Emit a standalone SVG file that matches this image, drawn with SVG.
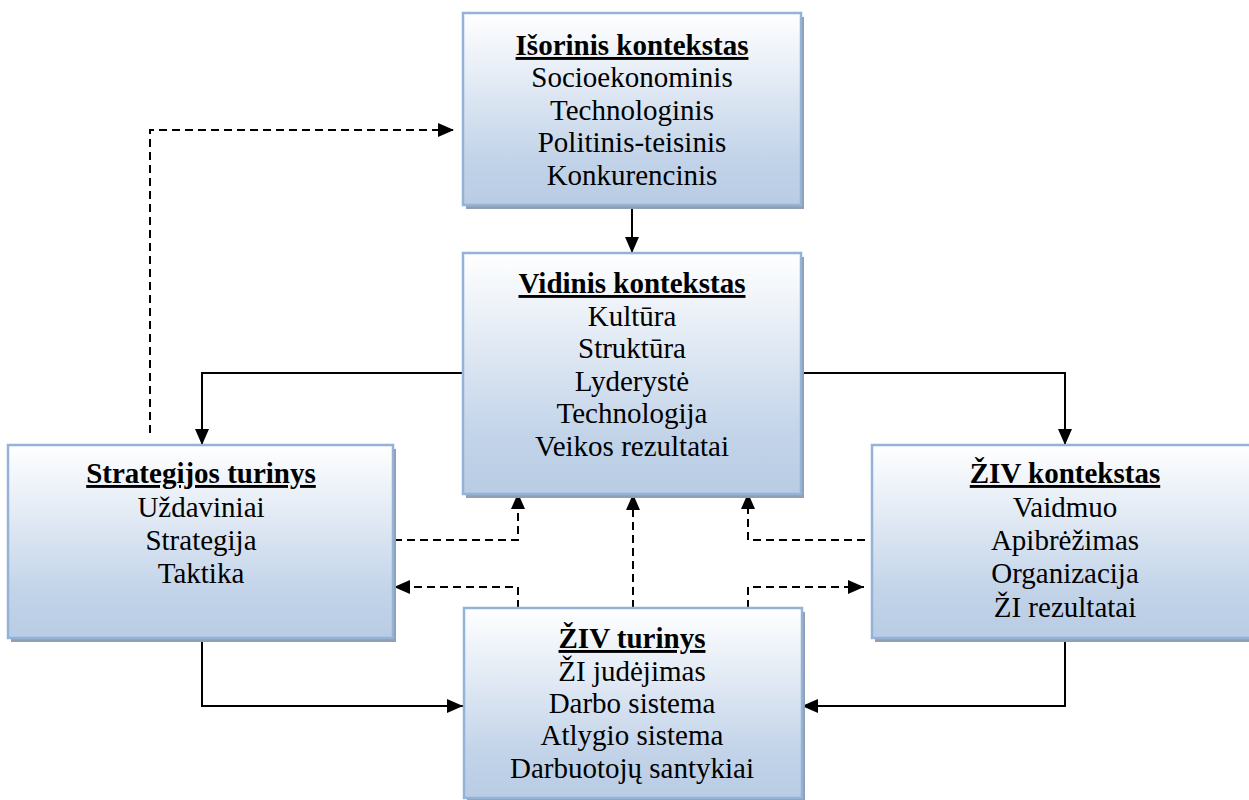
<svg xmlns="http://www.w3.org/2000/svg" width="1249" height="800" viewBox="0 0 1249 800">
  <style>
    .box { fill: url(#boxFill); stroke: #95b3d7; stroke-width: 2.5; }
    .shadow { fill: #8fa0b5; }
    .lbl { font-family: "Liberation Serif", Tinos, "Times New Roman", "DejaVu Serif", serif; font-size: 29px; fill: #000; text-anchor: middle; }
    .title { font-weight: bold; text-decoration: underline; }
    .solid { fill: none; stroke: #000; stroke-width: 2; }
    .dash { fill: none; stroke: #000; stroke-width: 2; stroke-dasharray: 8 5; }
  </style>
  <defs>
    <linearGradient id="boxFill" x1="0" y1="0" x2="0" y2="1">
      <stop offset="0" stop-color="#ffffff"/>
      <stop offset="0.75" stop-color="#c3d4e9"/>
      <stop offset="1" stop-color="#b8cce4"/>
    </linearGradient>
    <marker id="arrow" viewBox="0 0 16 14" refX="16" refY="7" markerWidth="16" markerHeight="14" markerUnits="userSpaceOnUse" orient="auto">
      <path d="M0,0 L16,7 L0,14 Z" fill="#000"/>
    </marker>
  </defs>

  <!-- connectors -->
  <g id="connectors">
    <line class="solid" x1="632" y1="205" x2="632" y2="253" marker-end="url(#arrow)"/>
    <polyline class="solid" points="463,373 202,373 202,445" marker-end="url(#arrow)"/>
    <polyline class="solid" points="801,373 1065,373 1065,445" marker-end="url(#arrow)"/>
    <polyline class="solid" points="202,638 202,706 463,706" marker-end="url(#arrow)"/>
    <polyline class="solid" points="1065,638 1065,706 802,706" marker-end="url(#arrow)"/>

    <polyline class="dash" points="150,433 150,130 454,130" marker-end="url(#arrow)"/>
    <polyline class="dash" points="394,540 518,540 518,493" marker-end="url(#arrow)"/>
    <polyline class="dash" points="518,608 518,587 394,587" marker-end="url(#arrow)"/>
    <line class="dash" x1="633" y1="608" x2="633" y2="494" marker-end="url(#arrow)"/>
    <polyline class="dash" points="865,540 748,540 748,493" marker-end="url(#arrow)"/>
    <polyline class="dash" points="748,608 748,587 864,587" marker-end="url(#arrow)"/>
  </g>

  <!-- external context -->
  <g id="node-isorinis" class="lbl">
    <rect class="shadow" x="466" y="17" width="338" height="192"/>
    <rect class="box" x="463" y="13" width="338" height="192"/>
    <text class="title" x="632" y="55">Išorinis kontekstas</text>
    <text x="632" y="87">Socioekonominis</text>
    <text x="632" y="120">Technologinis</text>
    <text x="632" y="152">Politinis-teisinis</text>
    <text x="632" y="185">Konkurencinis</text>
  </g>

  <!-- internal context -->
  <g id="node-vidinis" class="lbl">
    <rect class="shadow" x="466" y="257" width="338" height="241"/>
    <rect class="box" x="463" y="253" width="338" height="241"/>
    <text class="title" x="632" y="293">Vidinis kontekstas</text>
    <text x="632" y="326">Kultūra</text>
    <text x="632" y="358">Struktūra</text>
    <text x="632" y="391">Lyderystė</text>
    <text x="632" y="423">Technologija</text>
    <text x="632" y="456">Veikos rezultatai</text>
  </g>

  <!-- strategy content -->
  <g id="node-strategijos" class="lbl">
    <rect class="shadow" x="11" y="449" width="385" height="193"/>
    <rect class="box" x="8" y="445" width="385" height="193"/>
    <text class="title" x="201" y="483">Strategijos turinys</text>
    <text x="201" y="517">Uždaviniai</text>
    <text x="201" y="550">Strategija</text>
    <text x="201" y="583">Taktika</text>
  </g>

  <!-- HRM context -->
  <g id="node-ziv-kontekstas" class="lbl">
    <rect class="shadow" x="875" y="449" width="386" height="193"/>
    <rect class="box" x="872" y="445" width="386" height="193"/>
    <text class="title" x="1065" y="483">ŽIV kontekstas</text>
    <text x="1065" y="517">Vaidmuo</text>
    <text x="1065" y="550">Apibrėžimas</text>
    <text x="1065" y="583">Organizacija</text>
    <text x="1065" y="617">ŽI rezultatai</text>
  </g>

  <!-- HRM content -->
  <g id="node-ziv-turinys" class="lbl">
    <rect class="shadow" x="467" y="612" width="338" height="192"/>
    <rect class="box" x="464" y="608" width="338" height="190"/>
    <text class="title" x="632" y="648">ŽIV turinys</text>
    <text x="632" y="681">ŽI judėjimas</text>
    <text x="632" y="713">Darbo sistema</text>
    <text x="632" y="745">Atlygio sistema</text>
    <text x="632" y="778">Darbuotojų santykiai</text>
  </g>
</svg>
